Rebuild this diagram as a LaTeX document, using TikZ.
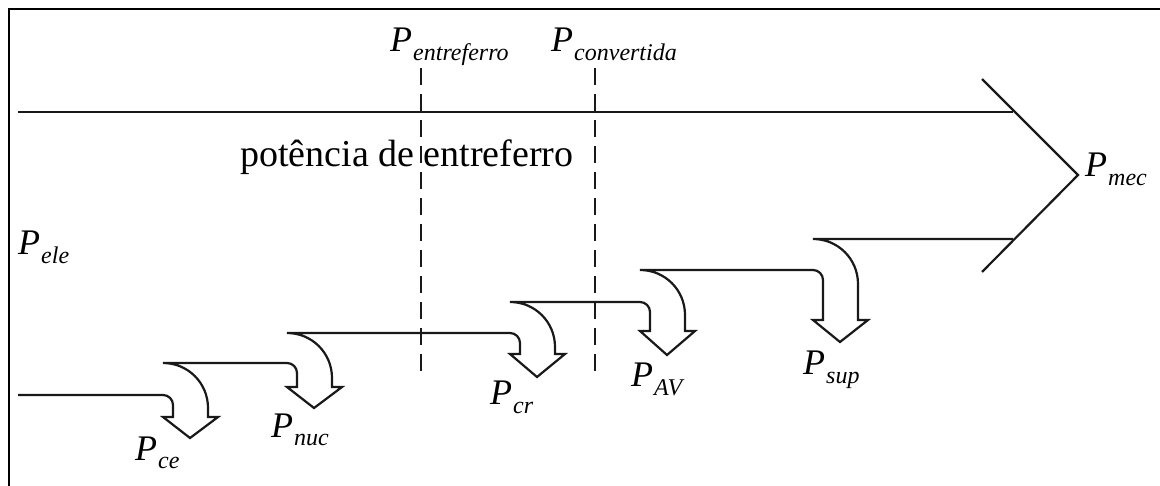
\documentclass[tikz,border=0pt]{standalone}
\usepackage{fontspec}
\setmainfont{Liberation Serif}
\newcommand\Plab[1]{\fontsize{36}{36}\selectfont\itshape P\kern1pt\raisebox{-9pt}{\fontsize{24}{24}\selectfont #1}}
\newcommand\stepseg[5]{-- (#1,#2) .. controls (#1+5.5,#2) and (#1+10,#2+4.5) .. (#1+10,#2+10) -- (#1+10,#4) -- (#1,#4) -- (#1+27,#5) -- (#1+55,#4) -- (#1+45,#4) -- (#1+45,#3+45) .. controls (#1+45,#3+20) and (#1+25,#3) .. (#1,#3)}
\begin{document}
\begin{tikzpicture}[x=1pt,y=-1pt,
  flow/.style={line width=2.2pt,line join=miter,black!90},
  frame/.style={line width=2pt,black},
  dashline/.style={line width=2pt,dash pattern=on 17pt off 9pt,black!90},
  lab/.style={inner sep=0pt,anchor=base west}]
\useasboundingbox (0,0) rectangle (1160,486);
\draw[frame] (9,486) -- (9,9) -- (1160,9);
% top flow line and chevron
\draw[flow] (18,112) -- (1013,112);
\draw[flow] (982,79) -- (1078,175) -- (982,272);
% stepped losses
\draw[flow] (18,395)
  \stepseg{163}{395}{363}{417}{438}
  \stepseg{287}{363}{333}{387}{408}
  \stepseg{510}{333}{302}{354}{377}
  \stepseg{640}{302}{270}{331}{355}
  \stepseg{813}{270}{239}{320}{342}
  -- (1013,239);
% dashed separators
\coordinate (d1t) at (421,68); \coordinate (d1b) at (421,372);
\coordinate (d2t) at (595,68); \coordinate (d2b) at (595,372);
\draw[dashline] (d1t) -- (d1b);
\draw[dashline] (d2t) -- (d2b);
% labels
\node[lab] (pent) at (390,52) {\Plab{entreferro}};
\node[lab] (pconv) at (551,52) {\Plab{convertida}};
\node[lab] (txt) at (240,167) {\fontsize{38}{40}\selectfont potência de entreferro};
\node[lab] (pele) at (18,255) {\Plab{ele}};
\node[lab] (pmec) at (1085,177) {\Plab{mec}};
\node[lab] (pce) at (135,460) {\Plab{ce}};
\node[lab] (pnuc) at (271,437) {\Plab{nuc}};
\node[lab] (pcr) at (490,405) {\Plab{cr}};
\node[lab] (pav) at (631,387) {\Plab{AV}};
\node[lab] (psup) at (803,375) {\Plab{sup}};
\end{tikzpicture}
\end{document}
